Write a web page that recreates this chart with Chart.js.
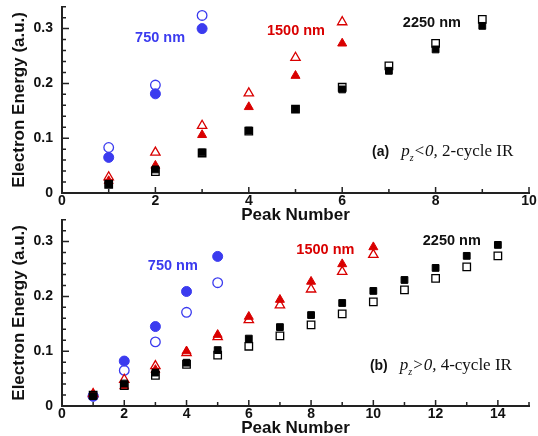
<!DOCTYPE html>
<html>
<head>
<meta charset="utf-8">
<script src="https://cdn.jsdelivr.net/npm/chart.js@4"></script>
<style>
html, body { margin: 0; padding: 0; background: #fff; overflow: hidden; }
#wrap { position: relative; width: 538px; height: 436px; }
canvas { position: absolute; left: 0; }
#chartA { top: 0; }
#chartB { top: 213px; }
</style>
</head>
<body>
<div id="wrap">
  <canvas id="chartA" width="538" height="226"></canvas>
  <canvas id="chartB" width="538" height="231"></canvas>
</div>
<script>
// panel (a): p_z<0, 2-cycle IR
const peaksA750 = [1, 2, 3];
const a750Filled = [0.065, 0.181, 0.300];
const a750Open = [0.083, 0.197, 0.324];
const peaksA1500 = [1, 2, 3, 4, 5, 6];
const a1500Filled = [0.022, 0.050, 0.106, 0.157, 0.214, 0.273];
const a1500Open = [0.029, 0.074, 0.123, 0.182, 0.247, 0.312];
const peaksA2250 = [1, 2, 3, 4, 5, 6, 7, 8, 9];
const a2250Filled = [0.016, 0.043, 0.074, 0.114, 0.153, 0.189, 0.223, 0.262, 0.305];
const a2250Open = [0.016, 0.039, 0.073, 0.113, 0.153, 0.193, 0.232, 0.273, 0.317];

// panel (b): p_z>0, 4-cycle IR
const peaksB750 = [1, 2, 3, 4, 5];
const b750Filled = [0.018, 0.082, 0.145, 0.209, 0.273];
const b750Open = [0.018, 0.065, 0.117, 0.171, 0.225];
const peaksB1500 = [1, 2, 3, 4, 5, 6, 7, 8, 9, 10];
const b1500Filled = [0.022, 0.036, 0.066, 0.100, 0.130, 0.163, 0.194, 0.227, 0.259, 0.290];
const b1500Open = [0.022, 0.048, 0.073, 0.097, 0.126, 0.157, 0.184, 0.213, 0.245, 0.276];
const peaksB2250 = [1, 2, 3, 4, 5, 6, 7, 8, 9, 10, 11, 12, 13, 14];
const b2250Filled = [0.018, 0.041, 0.061, 0.079, 0.102, 0.123, 0.144, 0.166, 0.188, 0.210, 0.230, 0.252, 0.274, 0.294];
const b2250Open = [0.020, 0.037, 0.056, 0.076, 0.093, 0.109, 0.128, 0.148, 0.168, 0.190, 0.212, 0.233, 0.254, 0.274];

const BLUE = '#3b3bef';
const RED = '#d90000';
const BLACK = '#000';
const FONT = '"Liberation Sans", Arial, sans-serif';
const SERIF = '"Liberation Serif", "Times New Roman", serif';

// text placed in data coordinates
const labelsA = [
  { text: '750 nm', x: 2.10, y: 0.283, color: BLUE },
  { text: '1500 nm', x: 5.01, y: 0.296, color: RED },
  { text: '2250 nm', x: 7.92, y: 0.310, color: '#111' }
];
const labelsB = [
  { text: '750 nm', x: 3.56, y: 0.255, color: BLUE },
  { text: '1500 nm', x: 8.46, y: 0.284, color: RED },
  { text: '2250 nm', x: 12.52, y: 0.301, color: '#111' }
];
const panelA = { tag: '(a)', cond: '<0,', rest: '2-cycle IR', x: 6.64, y: 0.075 };
const panelB = { tag: '(b)', cond: '>0,', rest: '4-cycle IR', x: 9.89, y: 0.073 };

function pts(xs, ys) {
  return ys.map((v, i) => ({ x: xs[i], y: v }));
}

function series(xs, ys, shape, color, filled, r) {
  return {
    data: pts(xs, ys),
    showLine: false,
    pointStyle: shape,
    pointRadius: r,
    pointHoverRadius: r,
    pointBackgroundColor: filled ? color : 'rgba(0,0,0,0)',
    pointBorderColor: color,
    pointBorderWidth: filled ? 1 : 1.3
  };
}

// inward tick marks, wavelength labels and panel caption
const decor = {
  id: 'decor',
  afterDatasetsDraw(chart, args, o) {
    const { ctx, chartArea: a, scales: { x, y } } = chart;
    ctx.save();
    ctx.strokeStyle = '#222';
    ctx.lineWidth = 1.5;
    ctx.beginPath();
    const nx = Math.round(x.max / o.xMinor);
    for (let i = 1; i <= nx; i++) {
      const v = i * o.xMinor;
      const px = x.getPixelForValue(v);
      const len = (i % (o.xMajor / o.xMinor) === 0) ? 6 : 4;
      ctx.moveTo(px, a.bottom);
      ctx.lineTo(px, a.bottom - len);
    }
    const ny = Math.round(y.max / o.yMinor + 1e-6);
    const per = Math.round(o.yMajor / o.yMinor);
    for (let i = 1; i <= ny; i++) {
      const py = y.getPixelForValue(i * o.yMinor);
      const len = (i % per === 0) ? 7 : 4;
      ctx.moveTo(a.left, py);
      ctx.lineTo(a.left + len, py);
    }
    ctx.stroke();

    ctx.textAlign = 'center';
    ctx.textBaseline = 'middle';
    ctx.font = 'bold 14.5px ' + FONT;
    o.labels.forEach(l => {
      ctx.fillStyle = l.color;
      ctx.fillText(l.text, x.getPixelForValue(l.x), y.getPixelForValue(l.y));
    });

    const p = o.panel;
    let px = x.getPixelForValue(p.x);
    const py = y.getPixelForValue(p.y);
    ctx.textAlign = 'left';
    ctx.fillStyle = '#111';
    ctx.font = 'bold 14px ' + FONT;
    ctx.fillText(p.tag, px, py);
    px += ctx.measureText(p.tag).width + 12;
    ctx.font = 'italic 17px ' + SERIF;
    ctx.fillText('p', px, py);
    px += ctx.measureText('p').width;
    ctx.font = 'italic 10px ' + SERIF;
    ctx.fillText('z', px, py + 6);
    px += ctx.measureText('z').width;
    ctx.font = 'italic 17px ' + SERIF;
    ctx.fillText(p.cond, px, py);
    px += ctx.measureText(p.cond).width;
    ctx.font = '17px ' + SERIF;
    ctx.fillText(' ' + p.rest, px, py);
    ctx.restore();
  }
};

function makeChart(id, datasets, xMax, xHeight, padTop, titlePad, labels, panel) {
  return new Chart(document.getElementById(id), {
    type: 'scatter',
    data: { datasets: datasets },
    plugins: [decor],
    options: {
      responsive: false,
      animation: false,
      devicePixelRatio: 1,
      events: [],
      layout: { padding: { top: padTop, right: 9, left: 0, bottom: 0 } },
      scales: {
        x: {
          type: 'linear',
          position: 'bottom',
          min: 0,
          max: xMax,
          grid: { display: false, drawTicks: false },
          border: { display: true, color: '#222', width: 2 },
          ticks: {
            stepSize: 2, includeBounds: false, padding: 0, maxRotation: 0, autoSkip: false,
            color: '#111', font: { family: FONT, size: 14, weight: 'bold' }
          },
          title: {
            display: true, text: 'Peak Number', color: '#111',
            font: { family: FONT, size: 17, weight: 'bold' },
            padding: { top: 0, bottom: titlePad }
          },
          afterFit(s) {
            s.height = xHeight;
            s.paddingLeft = 0;
            s.paddingRight = 0;
          }
        },
        y: {
          min: 0,
          max: 0.34,
          grid: { display: false, drawTicks: false },
          border: { display: true, color: '#222', width: 2 },
          ticks: {
            stepSize: 0.1, includeBounds: false, padding: 9,
            color: '#111', font: { family: FONT, size: 14, weight: 'bold' },
            callback: v => (Math.abs(v) < 1e-9 ? '0' : v.toFixed(1))
          },
          title: {
            display: true, text: 'Electron Energy (a.u.)', color: '#111',
            font: { family: FONT, size: 17, weight: 'bold' },
            padding: { top: 9, bottom: 0 }
          },
          afterFit(s) {
            s.width = 62;
            s.paddingTop = 0;
            s.paddingBottom = 0;
          }
        }
      },
      plugins: {
        legend: { display: false },
        tooltip: { enabled: false },
        decor: { xMinor: 1, xMajor: 2, yMinor: 0.02, yMajor: 0.1, labels: labels, panel: panel }
      }
    }
  });
}

makeChart('chartA', [
  series(peaksA2250, a2250Open, 'rect', BLACK, false, 5.3),
  series(peaksA2250, a2250Filled, 'rect', BLACK, true, 4.8),
  series(peaksA1500, a1500Open, 'triangle', RED, false, 5.4),
  series(peaksA1500, a1500Filled, 'triangle', RED, true, 5.2),
  series(peaksA750, a750Open, 'circle', BLUE, false, 4.8),
  series(peaksA750, a750Filled, 'circle', BLUE, true, 5)
], 10, 33, 6, 0, labelsA, panelA);

makeChart('chartB', [
  series(peaksB2250, b2250Filled, 'rect', BLACK, true, 4.8),
  series(peaksB2250, b2250Open, 'rect', BLACK, false, 5.3),
  series(peaksB1500, b1500Filled, 'triangle', RED, true, 5.2),
  series(peaksB1500, b1500Open, 'triangle', RED, false, 5.4),
  series(peaksB750, b750Filled, 'circle', BLUE, true, 5),
  series(peaksB750, b750Open, 'circle', BLUE, false, 4.8)
], 15, 38, 6, 5, labelsB, panelB);
</script>
</body>
</html>
